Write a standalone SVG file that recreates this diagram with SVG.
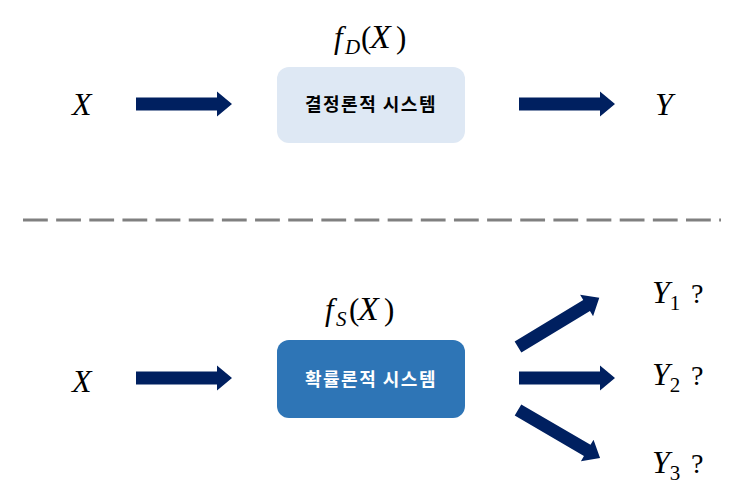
<svg xmlns="http://www.w3.org/2000/svg" xmlns:xlink="http://www.w3.org/1999/xlink" width="744" height="496" viewBox="0 0 744 496">
<style>
.m{font-family:"Liberation Serif","DejaVu Serif",serif;font-style:italic;font-size:32px;fill:#000}
.f{font-family:"Liberation Serif","DejaVu Serif",serif;font-style:italic;font-size:31px;fill:#000}
.bx{font-size:34px}
.sub{font-size:21px}
.up{font-style:normal}
.q{font-family:"Liberation Serif","DejaVu Serif",serif;font-size:28px;fill:#000}
.k{font-family:"Noto Sans CJK KR","Noto Sans",sans-serif;font-weight:bold;font-size:18px;letter-spacing:1.5px;text-anchor:middle}
.arr{fill:#002060}
</style>
<defs>
<path id="arrow" d="M0,-6.5 H81 V-12.5 L96,0 L81,12.5 V6.5 H0 Z"/>
</defs>
<line x1="23" y1="220" x2="721" y2="220" stroke="#808080" stroke-width="3" stroke-dasharray="24.8,8.35"/>
<g id="connectors" class="arr">
<use xlink:href="#arrow" transform="translate(136,104)"/>
<use xlink:href="#arrow" transform="translate(519,104)"/>
<use xlink:href="#arrow" transform="translate(136,378)"/>
<use xlink:href="#arrow" transform="translate(518,347) rotate(-31.2) scale(0.99,1)"/>
<use xlink:href="#arrow" transform="translate(519,378)"/>
<use xlink:href="#arrow" transform="translate(518,410) rotate(30.3) scale(0.99,1)"/>
</g>
<g id="x-top"><text class="m" x="72" y="115">X</text></g>
<g id="y-top"><text class="m" x="655" y="115">Y</text></g>
<g id="fd-label"><text class="f" y="48"><tspan x="334">f</tspan><tspan class="sub" x="345" y="54">D</tspan><tspan class="up" x="361" y="48">(</tspan><tspan class="bx" x="370">X</tspan><tspan class="up" x="396">)</tspan></text></g>
<g id="det-system">
<rect x="277" y="67" width="188" height="76" rx="12" fill="#DEE8F4"/>
<text class="k" x="371" y="111" fill="#000">결정론적 시스템</text>
</g>
<g id="x-bottom"><text class="m" x="72" y="392">X</text></g>
<g id="fs-label"><text class="f" y="320"><tspan x="325">f</tspan><tspan class="sub" x="336" y="326">S</tspan><tspan class="up" x="349" y="320">(</tspan><tspan class="bx" x="358">X</tspan><tspan class="up" x="384">)</tspan></text></g>
<g id="sto-system">
<rect x="277" y="340" width="188" height="78" rx="12" fill="#2E75B6"/>
<text class="k" x="371" y="386" fill="#fff">확률론적 시스템</text>
</g>
<g id="y1"><text class="m" x="652" y="303">Y<tspan class="sub up" dy="7">1</tspan></text><text class="q" x="691" y="303">?</text></g>
<g id="y2"><text class="m" x="652" y="385">Y<tspan class="sub up" dy="7">2</tspan></text><text class="q" x="691" y="385">?</text></g>
<g id="y3"><text class="m" x="652" y="473">Y<tspan class="sub up" dy="7">3</tspan></text><text class="q" x="691" y="473">?</text></g>
</svg>
